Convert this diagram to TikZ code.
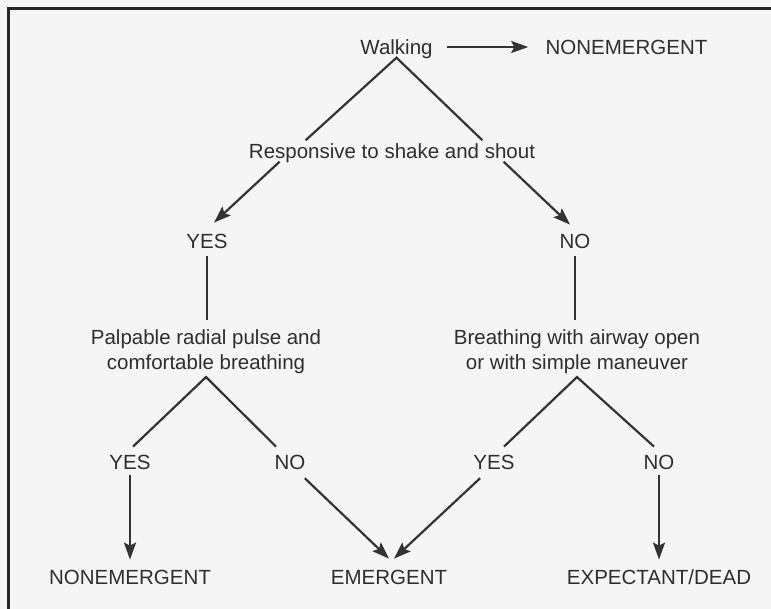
\documentclass[tikz,border=0pt]{standalone}
\usepackage{fontspec}
\setmainfont{Liberation Sans}
\usetikzlibrary{arrows.meta}

\begin{document}
\begin{tikzpicture}
  [x=0.5pt, y=-0.5pt,
   every node/.style={text=black!82, inner xsep=0pt, inner ysep=1.5pt,
     font=\fontsize{10.25}{12.5}\selectfont},
   lbl/.style={text height=7.3pt, text depth=0pt},
   quest/.style={align=center},
   link/.style={draw=black!80, line width=1.1pt},
   arr/.style={link, -{Stealth[length=8.5pt,width=6pt,inset=1.5pt]}}]

  \fill[black!4] (0,0) rectangle (771,609);
  \useasboundingbox (0,0) rectangle (771,609);
  \draw[black!85, line width=1.5pt, line join=miter] (8.5,609) -- (8.5,8.5) -- (771,8.5);

  \node[lbl] (walk)   at (396.5,47) {Walking};
  \node[lbl] (topnon) at (626.5,47) {NONEMERGENT};
  \node[lbl] (resp)   at (392,151)  {Responsive to shake and shout};
  \node[lbl] (yes1)   at (207,241)  {YES};
  \node[lbl] (no1)    at (575,241)  {NO};
  \node[quest] (pulse)  at (206,351.6) {Palpable radial pulse and\\comfortable breathing};
  \node[quest] (airway) at (577,351.6) {Breathing with airway open\\or with simple maneuver};
  \node[lbl] (yes2)   at (130,462)  {YES};
  \node[lbl] (no2)    at (290,462)  {NO};
  \node[lbl] (yes3)   at (494,462)  {YES};
  \node[lbl] (no3)    at (659,462)  {NO};
  \node[lbl] (nonem)  at (130,577)  {NONEMERGENT};
  \node[lbl] (emerg)  at (389,577)  {EMERGENT};
  \node[lbl] (dead)   at (659,577)  {EXPECTANT/DEAD};

  \draw[arr, shorten <=7pt, shorten >=8.5pt] (walk) -- (topnon);
  \draw[link] ([xshift=28.5pt]resp.north west) -- (walk.south) -- ([xshift=-26.5pt]resp.north east);
  \draw[arr] ([xshift=15.5pt]resp.south west) -- ([shift={(3.5pt,3.85pt)}]yes1.north);
  \draw[arr] ([xshift=-15.9pt]resp.south east) -- ([shift={(-2.5pt,2.85pt)}]no1.north);
  \draw[link, shorten <=2.3pt, shorten >=3.2pt] (yes1.south) -- (yes1.south |- pulse.north);
  \draw[link, shorten <=2.3pt, shorten >=3.2pt] (no1.south) -- (no1.south |- airway.north);
  \draw[link] ([shift={(1.5pt,2.35pt)}]yes2.north) -- (pulse.south) -- ([shift={(-7pt,2.35pt)}]no2.north);
  \draw[link] ([shift={(5pt,2.35pt)}]yes3.north) -- (airway.south) -- ([shift={(-2.5pt,2.35pt)}]no3.north);
  \draw[arr, shorten <=1.3pt] (yes2.south) -- ([yshift=3.35pt]nonem.north);
  \draw[arr, shorten <=4pt] ([xshift=4.5pt]no2.south) -- ([yshift=3.85pt]emerg.north);
  \draw[arr, shorten <=4pt] ([xshift=-4pt]yes3.south) -- ([shift={(2.5pt,3.85pt)}]emerg.north);
  \draw[arr, shorten <=1.3pt] (no3.south) -- ([yshift=3.35pt]dead.north);
\end{tikzpicture}
\end{document}
